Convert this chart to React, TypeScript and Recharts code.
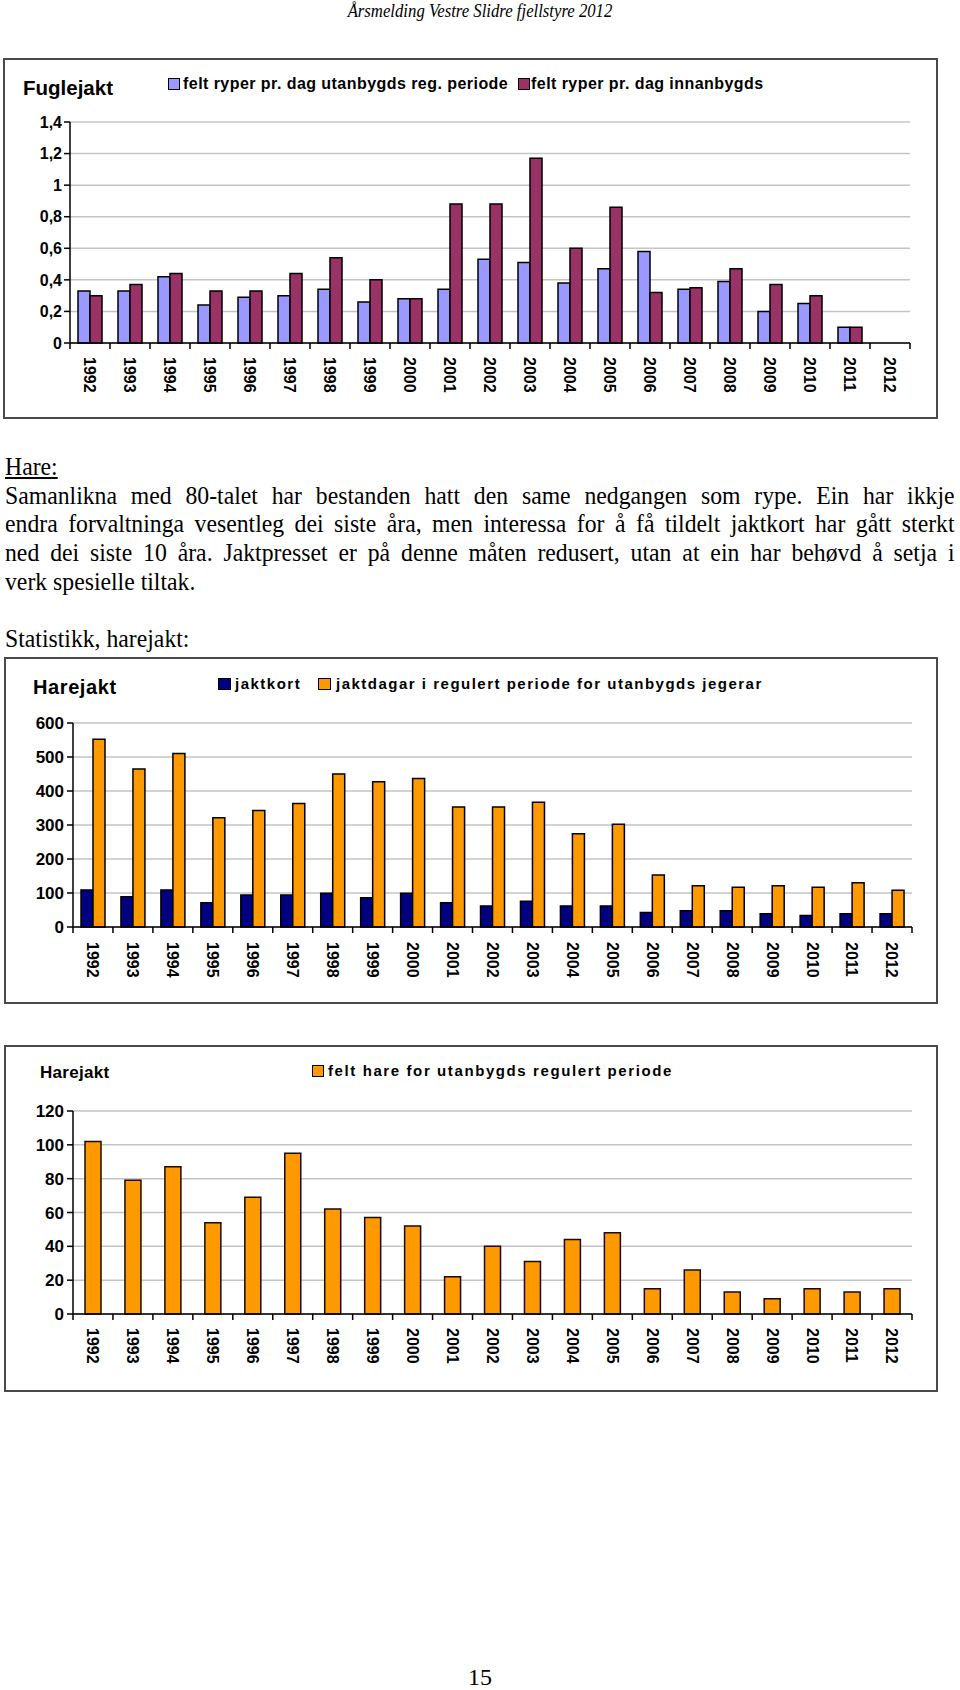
import React from "react";
import { BarChart, Bar, XAxis, YAxis, CartesianGrid } from "recharts";

const sans = "'Liberation Sans', Arial, sans-serif";
const serif = "'Liberation Serif', 'Times New Roman', serif";

const years = [
	"1992", "1993", "1994", "1995", "1996", "1997", "1998", "1999", "2000", "2001", "2002",
	"2003", "2004", "2005", "2006", "2007", "2008", "2009", "2010", "2011", "2012",
];

// Fuglejakt
const ryperUtanbygds = [
	0.33, 0.33, 0.42, 0.24, 0.29, 0.3, 0.34, 0.26, 0.28, 0.34, 0.53, 0.51, 0.38, 0.47, 0.58,
	0.34, 0.39, 0.2, 0.25, 0.1, null,
];
const ryperInnanbygds = [
	0.3, 0.37, 0.44, 0.33, 0.33, 0.44, 0.54, 0.4, 0.28, 0.88, 0.88, 1.17, 0.6, 0.86, 0.32,
	0.35, 0.47, 0.37, 0.3, 0.1, null,
];
const fugleTicks = [0, 0.2, 0.4, 0.6, 0.8, 1, 1.2, 1.4];

// Harejakt
const jaktkort = [109, 89, 109, 71, 94, 94, 99, 86, 99, 71, 62, 76, 62, 62, 43, 48, 48, 39, 34, 39, 39];
const jaktdagar = [
	552, 465, 510, 321, 343, 363, 450, 427, 437, 353, 353, 367, 274, 302, 153, 121, 117, 121,
	117, 130, 108,
];
const hareTicks = [0, 100, 200, 300, 400, 500, 600];

// felt hare
const feltHare = [102, 79, 87, 54, 69, 95, 62, 57, 52, 22, 40, 31, 44, 48, 15, 26, 13, 9, 15, 13, 15];
const feltTicks = [0, 20, 40, 60, 80, 100, 120];

const fugleData = years.map((year, i) => ({
	year,
	utan: ryperUtanbygds[i],
	innan: ryperInnanbygds[i],
}));
const hareData = years.map((year, i) => ({ year, kort: jaktkort[i], dagar: jaktdagar[i] }));
const feltData = years.map((year, i) => ({ year, felt: feltHare[i] }));

const paragraph = [
	"Samanlikna med 80-talet har bestanden hatt den same nedgangen som rype. Ein har ikkje",
	"endra forvaltninga vesentleg dei siste åra, men interessa for å få tildelt jaktkort har gått sterkt",
	"ned dei siste 10 åra. Jaktpresset er på denne måten redusert, utan at ein har behøvd å setja i",
];

const yearTick = (band: number, offset: number) => (props: any) => {
	const { x, y, payload, index } = props;
	const h = band / 2;
	return (
		<g>
			<line x1={x - h} y1={y} x2={x - h} y2={y + 6} stroke="#000" strokeWidth={1.5} />
			{index === years.length - 1 ? (
				<line x1={x + h} y1={y} x2={x + h} y2={y + 6} stroke="#000" strokeWidth={1.5} />
			) : null}
			<text
				transform={`translate(${x},${y + offset}) rotate(90)`}
				dy="0.35em"
				textAnchor="start"
				fontFamily={sans}
				fontSize={16}
				fontWeight="bold"
				fill="#000"
			>
				{payload.value}
			</text>
		</g>
	);
};

const LegendBox = ({ left, top, w, h, color }: any) => (
	<div
		style={{
			position: "absolute",
			left,
			top,
			width: w,
			height: h,
			background: color,
			border: "1.5px solid #000",
			boxSizing: "border-box",
		}}
	/>
);

const Label = ({ left, top, size, spacing, children }: any) => (
	<div
		style={{
			position: "absolute",
			left,
			top,
			fontFamily: sans,
			fontWeight: "bold",
			fontSize: size,
			lineHeight: 1,
			letterSpacing: spacing,
			whiteSpace: "nowrap",
			color: "#000",
		}}
	>
		{children}
	</div>
);

const axisStroke = { stroke: "#000", strokeWidth: 1.5 };
const borderStroke = { stroke: "#8c8c8c", strokeWidth: 1.5 };

const boxStyle = (left: number, top: number, right: number, bottom: number) => ({
	position: "absolute" as const,
	left,
	top,
	width: right - left,
	height: bottom - top,
	border: "2px solid #4a4a4a",
	boxSizing: "border-box" as const,
});

export default function App() {
	return (
		<div
			style={{
				position: "absolute",
				left: 0,
				top: 0,
				width: 960,
				height: 1690,
				background: "#fff",
				overflow: "hidden",
			}}
		>
			{/* header */}
			<div
				style={{
					position: "absolute",
					left: 0,
					top: 0,
					width: 960,
					textAlign: "center",
					fontFamily: serif,
					fontStyle: "italic",
					fontSize: 19,
					lineHeight: "22px",
					transform: "scaleX(0.88)",
				}}
			>
				Årsmelding Vestre Slidre fjellstyre 2012
			</div>

			{/* Fuglejakt */}
			<div style={boxStyle(3, 58, 938, 419)} />
			<Label left={23} top={78} size={20.5} spacing={0}>
				Fuglejakt
			</Label>
			<LegendBox left={168} top={78} w={12} h={12} color="#9999FF" />
			<Label left={183} top={76} size={16} spacing={0.45}>
				felt ryper pr. dag utanbygds reg. periode
			</Label>
			<LegendBox left={518} top={78} w={12} h={12} color="#993366" />
			<Label left={531} top={76} size={16} spacing={0.45}>
				felt ryper pr. dag innanbygds
			</Label>
			<div style={{ position: "absolute", left: 0, top: 100 }}>
				<BarChart
					width={960}
					height={310}
					data={fugleData}
					margin={{ top: 22, right: 50, bottom: 0, left: 0 }}
					barGap={0}
					barSize={12}
				>
					<CartesianGrid xAxisId="b" yAxisId="l" vertical={false} stroke="#c4c4c4" strokeWidth={1.5} />
					<XAxis xAxisId="t" orientation="top" height={0} tick={false} tickLine={false} axisLine={borderStroke} />
					<XAxis
						xAxisId="b"
						dataKey="year"
						height={67}
						interval={0}
						tickSize={0}
						tickMargin={0}
						tickLine={false}
						axisLine={axisStroke}
						tick={yearTick(40, 14)}
					/>
					<YAxis
						yAxisId="l"
						domain={[0, 1.4]}
						ticks={fugleTicks}
						width={70}
						interval={0}
						tickSize={6}
						tickMargin={2}
						axisLine={axisStroke}
						tickLine={axisStroke}
						tick={{ fill: "#000", fontSize: 16, fontWeight: "bold", fontFamily: sans }}
						tickFormatter={(v: number) => String(v).replace(".", ",")}
					/>
					<YAxis yAxisId="r" orientation="right" width={0} domain={[0, 1]} tick={false} tickLine={false} axisLine={borderStroke} />
					<Bar xAxisId="b" yAxisId="l" dataKey="utan" fill="#9999FF" stroke="#000" strokeWidth={1.5} isAnimationActive={false} />
					<Bar xAxisId="b" yAxisId="l" dataKey="innan" fill="#993366" stroke="#000" strokeWidth={1.5} isAnimationActive={false} />
				</BarChart>
			</div>

			{/* text */}
			<div
				style={{
					position: "absolute",
					left: 5,
					top: 453,
					width: 1021,
					fontFamily: serif,
					fontSize: 25.5,
					lineHeight: "28.7px",
					color: "#000",
					transform: "scaleX(0.93)",
					transformOrigin: "0 0",
				}}
			>
				<div style={{ textDecoration: "underline" }}>Hare:</div>
				{paragraph.map((line) => (
					<div key={line} style={{ textAlign: "justify", textAlignLast: "justify", whiteSpace: "nowrap" }}>
						{line}
					</div>
				))}
				<div>verk spesielle tiltak.</div>
				<div>&nbsp;</div>
				<div>Statistikk, harejakt:</div>
			</div>

			{/* Harejakt: jaktkort / jaktdagar */}
			<div style={boxStyle(4, 657, 938, 1004)} />
			<Label left={33} top={677} size={20} spacing={0.6}>
				Harejakt
			</Label>
			<LegendBox left={218} top={678} w={13} h={12} color="#000080" />
			<Label left={235} top={676} size={15} spacing={1.5}>
				jaktkort
			</Label>
			<LegendBox left={318} top={678} w={13} h={12} color="#FF9900" />
			<Label left={336} top={676} size={15} spacing={1.5}>
				jaktdagar i regulert periode for utanbygds jegerar
			</Label>
			<div style={{ position: "absolute", left: 0, top: 700 }}>
				<BarChart
					width={960}
					height={300}
					data={hareData}
					margin={{ top: 23, right: 48, bottom: 0, left: 0 }}
					barGap={0}
					barSize={12}
				>
					<CartesianGrid xAxisId="b" yAxisId="l" vertical={false} stroke="#c4c4c4" strokeWidth={1.5} />
					<XAxis xAxisId="t" orientation="top" height={0} tick={false} tickLine={false} axisLine={borderStroke} />
					<XAxis
						xAxisId="b"
						dataKey="year"
						height={73}
						interval={0}
						tickSize={0}
						tickMargin={0}
						tickLine={false}
						axisLine={axisStroke}
						tick={yearTick(839 / 21, 15)}
					/>
					<YAxis
						yAxisId="l"
						domain={[0, 600]}
						ticks={hareTicks}
						width={73}
						interval={0}
						tickSize={6}
						tickMargin={3}
						axisLine={axisStroke}
						tickLine={axisStroke}
						tick={{ fill: "#000", fontSize: 17, fontWeight: "bold", fontFamily: sans }}
					/>
					<YAxis yAxisId="r" orientation="right" width={0} domain={[0, 1]} tick={false} tickLine={false} axisLine={borderStroke} />
					<Bar xAxisId="b" yAxisId="l" dataKey="kort" fill="#000080" stroke="#000" strokeWidth={1.5} isAnimationActive={false} />
					<Bar xAxisId="b" yAxisId="l" dataKey="dagar" fill="#FF9900" stroke="#000" strokeWidth={1.5} isAnimationActive={false} />
				</BarChart>
			</div>

			{/* Harejakt: felt hare */}
			<div style={boxStyle(4, 1045, 938, 1392)} />
			<Label left={40} top={1064} size={17} spacing={0.3}>
				Harejakt
			</Label>
			<LegendBox left={312} top={1065} w={12} h={12} color="#FF9900" />
			<Label left={328} top={1063} size={15} spacing={1.6}>
				felt hare for utanbygds regulert periode
			</Label>
			<div style={{ position: "absolute", left: 0, top: 1090 }}>
				<BarChart
					width={960}
					height={298}
					data={feltData}
					margin={{ top: 21, right: 48, bottom: 0, left: 0 }}
					barSize={16}
				>
					<CartesianGrid xAxisId="b" yAxisId="l" vertical={false} stroke="#c4c4c4" strokeWidth={1.5} />
					<XAxis xAxisId="t" orientation="top" height={0} tick={false} tickLine={false} axisLine={borderStroke} />
					<XAxis
						xAxisId="b"
						dataKey="year"
						height={74}
						interval={0}
						tickSize={0}
						tickMargin={0}
						tickLine={false}
						axisLine={axisStroke}
						tick={yearTick(839 / 21, 14)}
					/>
					<YAxis
						yAxisId="l"
						domain={[0, 120]}
						ticks={feltTicks}
						width={73}
						interval={0}
						tickSize={6}
						tickMargin={3}
						axisLine={axisStroke}
						tickLine={axisStroke}
						tick={{ fill: "#000", fontSize: 17, fontWeight: "bold", fontFamily: sans }}
					/>
					<YAxis yAxisId="r" orientation="right" width={0} domain={[0, 1]} tick={false} tickLine={false} axisLine={borderStroke} />
					<Bar xAxisId="b" yAxisId="l" dataKey="felt" fill="#FF9900" stroke="#1a0a00" strokeWidth={1.5} isAnimationActive={false} />
				</BarChart>
			</div>

			{/* page number */}
			<div
				style={{
					position: "absolute",
					left: 0,
					top: 1664,
					width: 960,
					textAlign: "center",
					fontFamily: serif,
					fontSize: 24,
					lineHeight: "26px",
				}}
			>
				15
			</div>
		</div>
	);
}
